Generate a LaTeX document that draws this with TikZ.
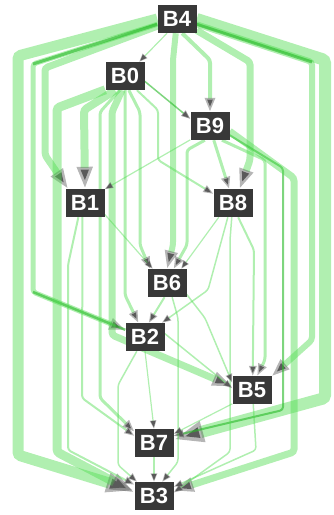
\documentclass[tikz,border=0pt]{standalone}
\usepackage{fontspec}
\setmainfont{Liberation Sans}
\usetikzlibrary{arrows.meta}
\definecolor{eg}{RGB}{80,220,80}
\definecolor{dg}{RGB}{40,185,40}
\definecolor{tipgray}{RGB}{90,90,90}
\definecolor{boxgray}{RGB}{56,56,56}
\pgfdeclarelayer{bg}
\pgfsetlayers{bg,main}
\begin{document}
\begin{tikzpicture}[x=1pt,y=-1pt,
  blk/.style={fill=boxgray, text=white, font=\fontsize{22}{22}\selectfont\bfseries, minimum width=39pt, minimum height=28pt, inner sep=0pt},
  ed/.style={draw=eg, draw opacity=0.45, line width=#1, rounded corners=3pt, -{Triangle[length=6pt 2, width=5pt 1.2, color=tipgray]}},
  ed/.default=2pt,
  dk/.style={draw=dg, draw opacity=0.6}]
\useasboundingbox (0,0) rectangle (333,515);
\node[blk] (B4) at (177,19) {B4};
\node[blk] (B0) at (125,76) {B0};
\node[blk] (B9) at (210,126) {B9};
\node[blk] (B1) at (85,203) {B1};
\node[blk] (B8) at (233,203) {B8};
\node[blk] (B6) at (167,283) {B6};
\node[blk] (B2) at (145,337) {B2};
\node[blk] (B5) at (252,390) {B5};
\node[blk] (B7) at (154,443) {B7};
\node[blk] (B3) at (154,496) {B3};
\begin{pgfonlayer}{bg}
% B4
\draw[ed=1.2pt] (B4.235) -- (B0.45);
\draw[ed=4pt] (B4.290) -- (210,60) -- (B9.north);
\draw[ed=6pt] (B4.265) -- (173,60) -- (173,245) -- (B6.north);
\draw[ed=7pt] (B4.330) -- (250,62) -- (250,160) -- (B8.65);
\draw[ed=6pt] (B4.345) -- (312,62) -- (312,340) -- (B5.35);
\draw[ed=12pt] (B4.east) -- (325,60) -- (325,398) -- (B7.10);
\draw[ed=11pt] (B4.west) -- (18,56) -- (18,455) -- (B3.165);
\draw[ed=5pt] (B4.195) -- (33,64) -- (33,292) -- (B2.160);
\draw[ed=7pt] (B4.200) -- (45,68) -- (45,155) -- (B1.140);
% darker cores of the heaviest bands
\draw[draw=dg, draw opacity=0.6, line width=3pt] (B4.195) -- (33,64);
\draw[draw=dg, draw opacity=0.6, line width=3pt] (B4.345) -- (312,62);
\draw[draw=dg, draw opacity=0.6, line width=2.5pt] (33,292) -- (B2.160);
% B0
\draw[ed=1.5pt, dk] (B0.345) -- (B9.160);
\draw[ed=8pt] (B0.235) -- (84,110) -- (B1.north);
\draw[ed=9pt] (B0.215) -- (57,108) -- (57,452) -- (B3.170);
\draw[ed=3pt] (B0.250) -- (100,112) -- (100,398) -- (B7.150);
\draw[ed=7pt] (B0.258) -- (112,112) -- (112,335) -- (B5.170);
\draw[ed=3pt] (B0.270) -- (125,112) -- (125,295) -- (B2.115);
\draw[ed=3pt] (B0.285) -- (140,112) -- (140,245) -- (B6.140);
\draw[ed=2pt] (B0.310) -- (158,110) -- (158,160) -- (B8.155);
% B1
\draw[ed=1.2pt] (B1.330) -- (B6.135);
\draw[ed=2pt] (B1.260) -- (82,398) -- (B7.160);
\draw[ed=2pt] (B1.245) -- (68,265) -- (68,450) -- (B3.150);
% B9
\draw[ed=1.2pt] (B9.215) -- (B1.35);
\draw[ed=3pt] (B9.285) -- (B8.105);
\draw[ed=3pt] (B9.250) -- (187,150) -- (187,245) -- (B6.65);
\draw[ed=3pt] (B9.310) -- (265,160) -- (265,360) -- (B5.70);
\draw[ed=2pt, dk] (B9.335) -- (283,168) -- (283,410) -- (B7.20);
\draw[ed=7pt] (B9.345) -- (294,178) -- (294,452) -- (B3.15);
% B8
\draw[ed=1.2pt] (B8.225) -- (B6.45);
\draw[ed=1.5pt] (B8.250) -- (208,290) -- (B2.40);
\draw[ed=2pt] (B8.290) -- (254,250) -- (B5.87);
\draw[ed=1.5pt] (B8.265) -- (230,240) -- (230,452) -- (B3.10);
% B6
\draw[ed=2pt] (B6.260) -- (B2.75);
\draw[ed=1.5pt] (B6.330) -- (205,318) -- (B5.160);
\draw[ed=1.5pt] (B6.290) -- (178,318) -- (178,462) -- (B3.60);
% B2
\draw[ed=1.2pt] (B2.270) -- (B7.north);
\draw[ed=1.5pt] (B2.240) -- (118,385) -- (118,465) -- (B3.140);
\draw[ed=1.5pt] (B2.10) -- (B5.175);
% B5
\draw[ed=1.2pt] (B5.215) -- (B7.25);
\draw[ed=1.5pt] (B5.275) -- (256,450) -- (B3.25);
% B7
\draw[ed=1.2pt] (B7.south) -- (B3.north);
\end{pgfonlayer}
\end{tikzpicture}
\end{document}
